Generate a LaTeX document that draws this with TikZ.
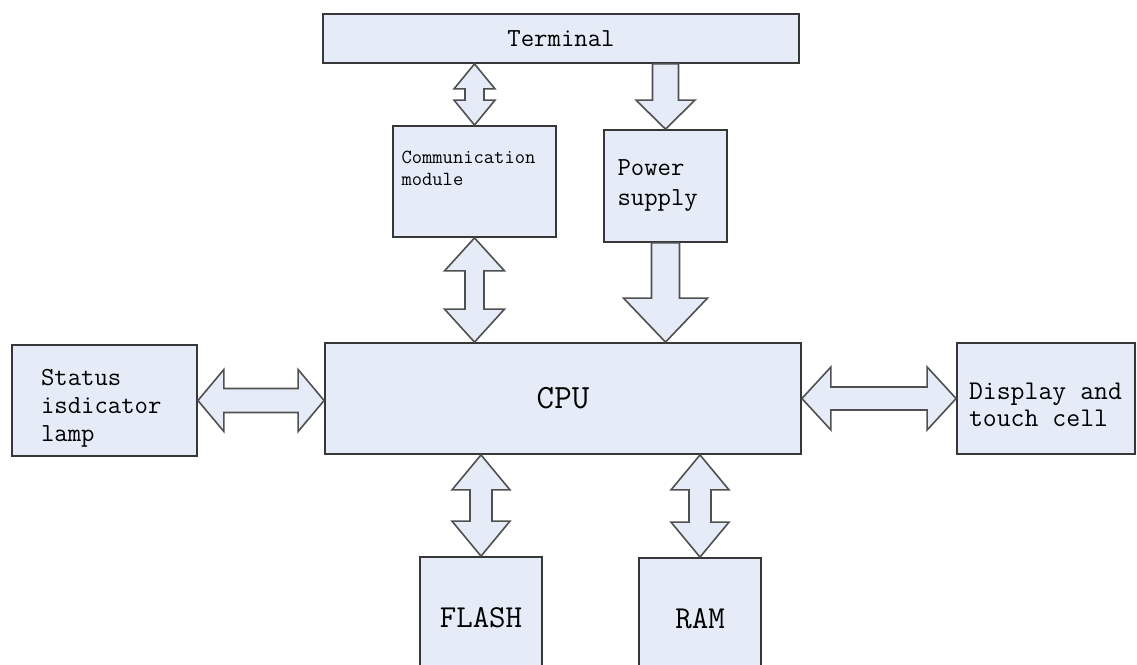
\documentclass[tikz,border=0pt]{standalone}
\usetikzlibrary{calc}
\definecolor{boxfill}{RGB}{229,236,247}
\definecolor{boxline}{RGB}{55,55,55}
\definecolor{arrline}{RGB}{80,80,80}
\tikzset{
  box/.style={draw=boxline, fill=boxfill, line width=1.8pt, rectangle, inner sep=0pt,
    font=\ttfamily\fontsize{26}{28}\selectfont, align=left},
  blockarrow/.style={draw=arrline, fill=boxfill, line width=1.6pt, line join=miter},
}
% #1 top, #2 bottom, #3 shaft half width, #4 head half width, #5 head length
\newcommand\VDArrow[5]{%
  \draw[blockarrow] let \p1=#1, \p2=#2 in
    (\x1,\y1) -- (\x1+#4pt,\y1-#5pt) -- (\x1+#3pt,\y1-#5pt) -- (\x1+#3pt,\y2+#5pt)
    -- (\x1+#4pt,\y2+#5pt) -- (\x1,\y2) -- (\x1-#4pt,\y2+#5pt) -- (\x1-#3pt,\y2+#5pt)
    -- (\x1-#3pt,\y1-#5pt) -- (\x1-#4pt,\y1-#5pt) -- cycle;}
\newcommand\VSArrow[5]{%
  \draw[blockarrow] let \p1=#1, \p2=#2 in
    (\x1-#3pt,\y1) -- (\x1+#3pt,\y1) -- (\x1+#3pt,\y2+#5pt) -- (\x1+#4pt,\y2+#5pt)
    -- (\x1,\y2) -- (\x1-#4pt,\y2+#5pt) -- (\x1-#3pt,\y2+#5pt) -- cycle;}
% #1 left, #2 right
\newcommand\HDArrow[5]{%
  \draw[blockarrow] let \p1=#1, \p2=#2 in
    (\x1,\y1) -- (\x1+#5pt,\y1+#4pt) -- (\x1+#5pt,\y1+#3pt) -- (\x2-#5pt,\y1+#3pt)
    -- (\x2-#5pt,\y1+#4pt) -- (\x2,\y1) -- (\x2-#5pt,\y1-#4pt) -- (\x2-#5pt,\y1-#3pt)
    -- (\x1+#5pt,\y1-#3pt) -- (\x1+#5pt,\y1-#4pt) -- cycle;}
\begin{document}
\begin{tikzpicture}[x=1pt,y=-1pt]
\fill[white] (0,0) rectangle (1137,664);
\clip (0,0) rectangle (1137,664);

\node[box, minimum width=476pt, minimum height=49pt] (term) at (561,38.5) {Terminal};
\node[box, minimum width=163pt, minimum height=111pt, font=\ttfamily\fontsize{20}{22}\selectfont]
  (comm) at (474.5,181.5) {\parbox[c][60pt][t]{146pt}{Communication\\module}};
\node[box, minimum width=123pt, minimum height=112pt, font=\ttfamily\fontsize{26}{30}\selectfont]
  (power) at (665.5,186) {\parbox[c][52pt][t]{96pt}{Power\\supply}};
\node[box, minimum width=476pt, minimum height=111pt, font=\ttfamily\fontsize{34}{36}\selectfont]
  (cpu) at (563,398.5) {CPU};
\node[box, minimum width=185pt, minimum height=111pt, font=\ttfamily\fontsize{26}{28}\selectfont]
  (status) at (104.5,400.5) {\parbox[c][62pt][t]{127pt}{Status\\isdicator\\lamp}};
\node[box, minimum width=178pt, minimum height=111pt, font=\ttfamily\fontsize{27}{27}\selectfont]
  (display) at (1046,398.5) {\parbox[c][32pt][t]{154pt}{Display and\\touch cell}};
\node[box, minimum width=122pt, minimum height=122pt, font=\ttfamily\fontsize{32}{34}\selectfont]
  (flash) at (481,618) {FLASH};
\node[box, minimum width=122pt, minimum height=122pt, font=\ttfamily\fontsize{32}{34}\selectfont]
  (ram) at (700,619) {RAM};

\VDArrow{(comm.north |- term.south)}{(comm.north)}{9.5}{20.5}{25}
\VSArrow{(power.north |- term.south)}{(power.north)}{13}{29.5}{29}
\VDArrow{(comm.south)}{(comm.south |- cpu.north)}{9.5}{30}{33}
\VSArrow{(power.south)}{(power.south |- cpu.north)}{14}{42}{44}
\HDArrow{(status.east)}{(cpu.west |- status.east)}{12}{31}{26}
\HDArrow{(cpu.east |- display.west)}{(display.west)}{11.5}{31.5}{29}
\VDArrow{(flash.north |- cpu.south)}{(flash.north)}{11}{29}{35}
\VDArrow{(ram.north |- cpu.south)}{(ram.north)}{11}{29}{35}
\end{tikzpicture}
\end{document}
